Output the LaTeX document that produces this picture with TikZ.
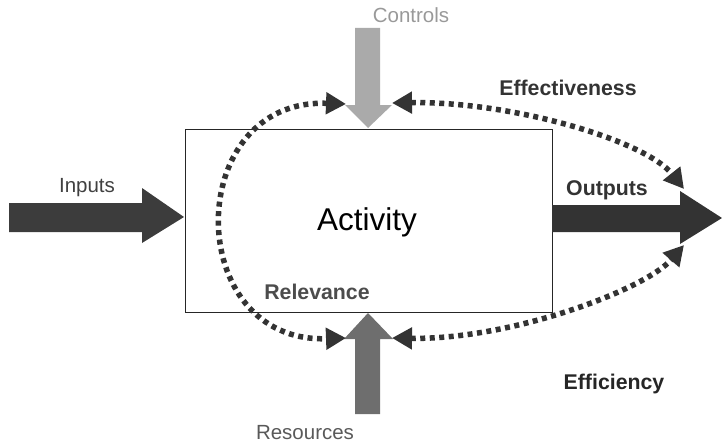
\documentclass[tikz,border=0pt]{standalone}
\usepackage{fontspec}
\setmainfont{Liberation Sans}
\usetikzlibrary{arrows.meta}
\definecolor{inC}{HTML}{3C3C3C}
\definecolor{outC}{HTML}{333333}
\definecolor{ctlC}{HTML}{AAAAAA}
\definecolor{resC}{HTML}{6E6E6E}
\definecolor{dotC}{HTML}{333333}
\tikzset{
  lbl/.style={font=\fontsize{20.5}{20.5}\selectfont, inner sep=0pt},
  blbl/.style={font=\fontsize{21.3}{21.3}\selectfont\bfseries, inner sep=0pt},
  dotline/.style={draw=dotC, line width=5.5pt, dash pattern=on 5pt off 4.5pt,
     {Triangle[length=20pt,width=21pt]}-{Triangle[length=20pt,width=21pt]}},
  boxst/.style={draw=black!85, line width=1.4pt, fill=white, inner sep=0pt}
}
\begin{document}
\begin{tikzpicture}[x=1pt,y=-1pt]
\useasboundingbox (0,0) rectangle (722,444);
% activity box
\node[boxst, minimum width=367pt, minimum height=183pt, anchor=north west] (act) at (184.5,129) {};
\node[font=\fontsize{31.5}{31.5}\selectfont, inner sep=0pt] (actl) at (367,222) {Activity};
% inputs arrow
\fill[inC] (9,203) -- (142,203) -- (142,188) -- (184,217) -- (142,243) -- (142,232) -- (9,232) -- cycle;
% outputs arrow
\fill[outC] (552,205) -- (680,205) -- (680,191) -- (722,218) -- (680,244) -- (680,232) -- (552,232) -- cycle;
% controls arrow
\fill[ctlC] (355,28) -- (380,28) -- (380,105) -- (392,105) -- (368,128) -- (345,105) -- (355,105) -- cycle;
% resources arrow
\fill[resC] (355,414) -- (380,414) -- (380,339) -- (393,339) -- (368,313) -- (344,339) -- (355,339) -- cycle;
% labels
\node[lbl, text=ctlC!90!black] (ctl) at (411,15) {Controls};
\node[lbl, text=black!75] (inp) at (87,188) {Inputs};
\node[blbl, text=outC] (outp) at (607,190) {Outputs};
\node[lbl, text=black!65] (res) at (305,433) {Resources};
\node[blbl, text=black!70] (rel) at (317,292) {Relevance};
\node[blbl, text=outC] (eff) at (568,88) {Effectiveness};
\node[blbl, text=black!85] (effi) at (614,384) {Efficiency};
% dotted arcs
\coordinate (rA) at (346,104);
\coordinate (rB) at (346,338);
\coordinate (eA) at (392,103);
\coordinate (eB) at (684,189);
\coordinate (fA) at (392,338);
\coordinate (fB) at (684,245);
\draw[dotline] (rA) .. controls (182,98) and (182,344) .. (rB);
\draw[dotline] (eA) .. controls (510,101) and (645,140) .. (eB);
\draw[dotline] (fA) .. controls (510,340) and (645,290) .. (fB);
\end{tikzpicture}
\end{document}
